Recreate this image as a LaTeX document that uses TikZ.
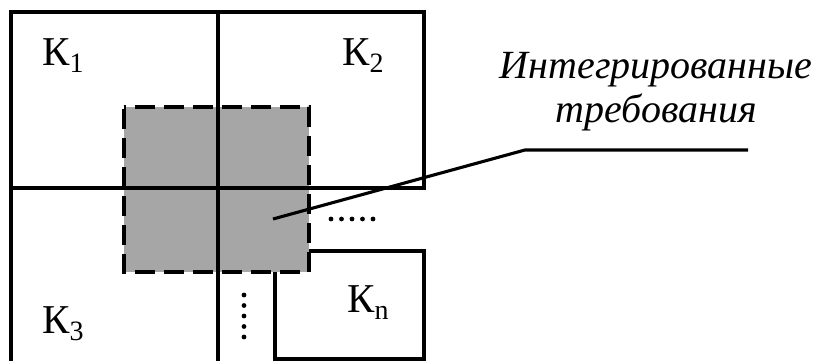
\documentclass[tikz,border=0pt]{standalone}
\usepackage{fontspec}
\setmainfont{Liberation Serif}
\begin{document}
\begin{tikzpicture}[x=1pt,y=-1pt,
  ln/.style={line width=3.1pt},
  lbl/.style={anchor=base west,inner sep=0pt,font=\fontsize{41}{44}\selectfont},
  captxt/.style={anchor=center,inner sep=0pt,font=\fontsize{40}{44}\selectfont\itshape},
  dotmark/.style={fill=black,circle,inner sep=0pt,minimum size=4.8pt}]
\newcommand\ksub[1]{\raisebox{-7pt}{\fontsize{28}{28}\selectfont #1}}
\useasboundingbox (0,0) rectangle (819,361);
% integrated region
\fill[fill={rgb,255:red,166;green,166;blue,166}] (124,107) rectangle (309,272);
% grid
\draw[ln,line join=miter] (11,361) -- (11,12) -- (424,12) -- (424,188) -- (11,188);
\draw[ln] (218,12) -- (218,361);
% Kn box
\draw[ln,line join=miter] (309,251) -- (424,251) -- (424,359) -- (275,359) -- (275,272);
% dashed border
\draw[ln,dash pattern=on 20pt off 9pt,dash phase=-2pt] (124,107) rectangle (309,272);
% dots
\foreach \i in {0,...,4} {
  \node[dotmark] (h\i) at (331+10.5*\i,219) {};
  \node[dotmark] (v\i) at (244,295+10.5*\i) {};
}
% labels
\node[lbl] (k1) at (42,66) {К\ksub{1}};
\node[lbl] (k2) at (342,66) {К\ksub{2}};
\node[lbl] (k3) at (42,333) {К\ksub{3}};
\node[lbl] (kn) at (347,312) {К\ksub{n}};
\node[captxt] (t1) at (656,70) {Интегрированные};
\node[captxt] (t2) at (656,112) {требования};
% leader
\coordinate (p0) at (273,219);
\coordinate (p1) at (525,150);
\coordinate (p2) at (748,150);
\draw[ln] (p0) -- (p1) -- (p2);
\end{tikzpicture}
\end{document}
